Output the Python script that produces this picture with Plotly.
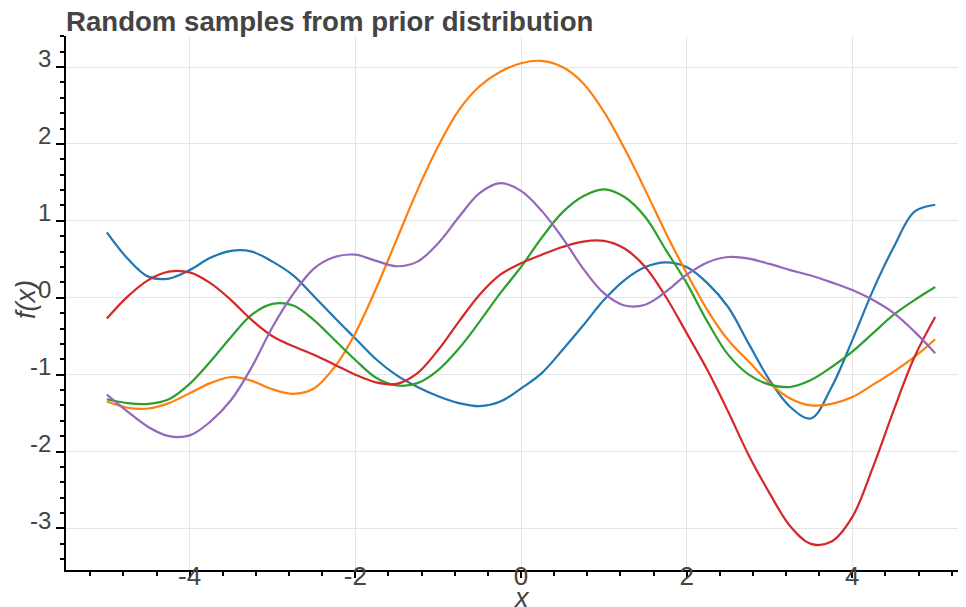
import plotly.graph_objects as go

# ---- data ----
x_vals = [-5.0, -4.75, -4.5, -4.25, -4.0, -3.75, -3.5, -3.25, -3.0, -2.75, -2.5, -2.25, -2.0, -1.75,
          -1.5, -1.25, -1.0, -0.75, -0.5, -0.25, 0.0, 0.25, 0.5, 0.75, 1.0, 1.25, 1.5, 1.75, 2.0,
          2.25, 2.5, 2.75, 3.0, 3.25, 3.5, 3.75, 4.0, 4.25, 4.5, 4.75, 5.0]

sample_blue = [0.85, 0.51, 0.275, 0.25, 0.36, 0.52, 0.61, 0.60, 0.47, 0.29, 0.02, -0.26, -0.53, -0.80,
               -1.01, -1.16, -1.28, -1.37, -1.41, -1.35, -1.18, -0.98, -0.68, -0.36, -0.03, 0.23, 0.40,
               0.46, 0.40, 0.19, -0.12, -0.60, -1.07, -1.42, -1.57, -1.16, -0.55, 0.10, 0.66, 1.12, 1.21]
sample_orange = [-1.35, -1.43, -1.44, -1.37, -1.24, -1.11, -1.03, -1.08, -1.19, -1.25, -1.18, -0.90,
                 -0.46, 0.12, 0.76, 1.40, 1.97, 2.44, 2.75, 2.94, 3.05, 3.08, 3.00, 2.79, 2.42, 1.94,
                 1.40, 0.84, 0.32, -0.16, -0.55, -0.83, -1.11, -1.31, -1.40, -1.38, -1.29, -1.13,
                 -0.96, -0.77, -0.54]
sample_green = [-1.32, -1.37, -1.38, -1.32, -1.12, -0.83, -0.51, -0.22, -0.08, -0.10, -0.29, -0.55,
                -0.81, -1.04, -1.14, -1.11, -0.94, -0.66, -0.31, 0.06, 0.40, 0.78, 1.11, 1.32, 1.41,
                1.31, 1.05, 0.62, 0.19, -0.31, -0.74, -1.00, -1.13, -1.16, -1.07, -0.90, -0.70,
                -0.46, -0.22, -0.03, 0.14]
sample_red = [-0.27, 0.015, 0.23, 0.34, 0.33, 0.19, -0.03, -0.29, -0.50, -0.63, -0.74, -0.87, -1.00,
              -1.10, -1.12, -0.98, -0.68, -0.31, 0.04, 0.30, 0.45, 0.56, 0.66, 0.73, 0.74, 0.64, 0.40,
              0.01, -0.46, -0.94, -1.48, -2.05, -2.54, -2.97, -3.20, -3.17, -2.85, -2.20, -1.46,
              -0.77, -0.25]
sample_purple = [-1.26, -1.48, -1.68, -1.80, -1.79, -1.61, -1.33, -0.90, -0.38, 0.05, 0.38, 0.53,
                 0.56, 0.48, 0.41, 0.47, 0.71, 1.05, 1.36, 1.49, 1.39, 1.13, 0.78, 0.38, 0.06,
                 -0.10, -0.09, 0.08, 0.30, 0.46, 0.53, 0.51, 0.44, 0.36, 0.29, 0.20, 0.10, -0.03,
                 -0.20, -0.44, -0.72]

series = [sample_blue, sample_orange, sample_green, sample_red, sample_purple]
colors = ["#1f77b4", "#ff7f0e", "#2ca02c", "#d62728", "#9467bd"]

x_tick_vals = [-4, -2, 0, 2, 4]
x_tick_text = ["-4", "-2", "0", "2", "4"]
y_tick_vals = [-3, -2, -1, 0, 1, 2, 3]
y_tick_text = ["-3", "-2", "-1", "0", "1", "2", "3"]

title_text = "Random samples from prior distribution"
x_label = "x"
y_label = "f(x)"

FONT = "Liberation Sans, Arial, Helvetica, sans-serif"

# page body has an 8px margin: figure is sized/offset to fill the 966x607 window
W, H = 958, 599
L, T, B = 58, 28, 37
PW, PH = W - L, H - T - B

fig = go.Figure()
for ys, c in zip(series, colors):
    fig.add_trace(go.Scatter(x=x_vals, y=ys, mode="lines",
                             line=dict(color=c, width=2.2, shape="spline", smoothing=1.0),
                             showlegend=False, hoverinfo="skip"))

fig.update_layout(
    width=W, height=H,
    margin=dict(l=L, r=0, t=T, b=B, pad=0),
    paper_bgcolor="white", plot_bgcolor="white",
    font=dict(family=FONT, color="#444444"),
    title=dict(text="<b>" + title_text + "</b>", x=L / W, xanchor="left", xref="container",
               y=1 - 13.5 / H, yanchor="middle", yref="container",
               font=dict(size=27.6, color="#444444", family=FONT)),
    showlegend=False,
)

fig.update_xaxes(
    range=[-5.493, 5.372], autorange=False,
    tickmode="array", tickvals=x_tick_vals, ticktext=x_tick_text,
    ticks="outside", ticklen=6, tickwidth=1.5, tickcolor="black",
    showline=True, linecolor="black", linewidth=1.5,
    showgrid=True, gridcolor="#e5e5e5", gridwidth=1, zeroline=False,
    tickfont=dict(size=26, color="#444444", family=FONT),
    ticklabelstandoff=-24,
    minor=dict(dtick=0.4, tick0=0, ticks="outside", ticklen=4, tickwidth=1.5,
               tickcolor="black", showgrid=False),
)
fig.update_yaxes(
    range=[-3.540, 3.404], autorange=False,
    tickmode="array", tickvals=y_tick_vals, ticktext=y_tick_text,
    ticks="outside", ticklen=8, tickwidth=1.5, tickcolor="black",
    showline=True, linecolor="black", linewidth=1.5,
    showgrid=True, gridcolor="#e5e5e5", gridwidth=1, zeroline=False,
    tickfont=dict(size=24, color="#444444", family=FONT),
    ticklabelshift=-8, ticklabelstandoff=0,
    minor=dict(dtick=0.2, tick0=0, ticks="outside", ticklen=4, tickwidth=1.5,
               tickcolor="black", showgrid=False),
)

fig.add_annotation(text="<i>" + x_label + "</i>", xref="paper", yref="paper",
                   x=(513 - L) / PW, y=-(590 - (T + PH)) / PH, xanchor="center", yanchor="middle",
                   showarrow=False, font=dict(size=27, color="#444444", family=FONT))
fig.add_annotation(text="<i>" + y_label + "</i>", xref="paper", yref="paper",
                   x=-(L - 18) / PW, y=(T + PH - 292) / PH, xanchor="center", yanchor="middle",
                   textangle=-90, showarrow=False,
                   font=dict(size=27, color="#444444", family=FONT))

fig.write_html("out.html", config={"displayModeBar": False})
